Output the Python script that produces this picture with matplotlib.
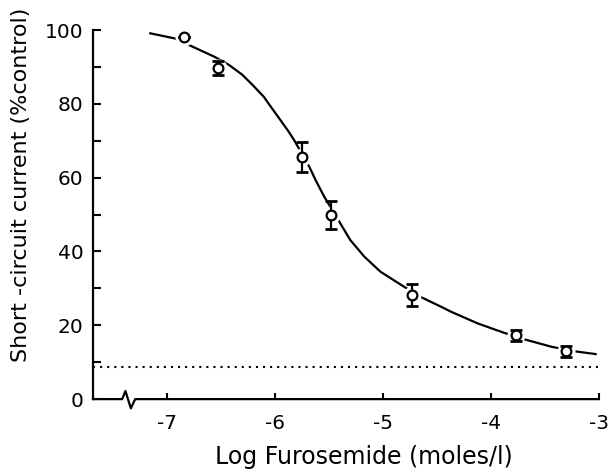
import matplotlib
matplotlib.use("Agg")
import matplotlib.pyplot as plt
from matplotlib.ticker import MultipleLocator

# ------------------------------------------------------------------ data

log_conc = [-6.84, -6.52, -5.75, -5.48, -4.73, -3.77, -3.30]
current = [98.1, 89.7, 65.6, 49.9, 28.2, 17.3, 13.0]
sem = [0.0, 1.8, 4.0, 3.8, 3.0, 1.5, 1.5]

# courbe ajustée
curve_x = [-7.15, -6.92, -6.76, -6.56, -6.42, -6.30, -6.20, -6.10, -6.02,
           -5.88, -5.82, -5.68, -5.62, -5.54, -5.40, -5.30, -5.17, -5.02,
           -4.80, -4.65, -4.43, -4.37, -4.12, -3.88, -3.69, -3.44, -3.26,
           -3.03]
curve_y = [99.1, 97.7, 95.5, 92.8, 90.5, 87.9, 85.0, 81.9, 78.6,
           72.9, 70.2, 63.0, 59.3, 54.8, 48.0, 43.1, 38.6, 34.5,
           30.4, 27.7, 24.6, 23.7, 20.5, 18.0, 16.2, 14.2, 13.1,
           12.2]

baseline = 8.7
x_ticks = [-7, -6, -5, -4, -3]
y_ticks = [0, 20, 40, 60, 80, 100]

# ------------------------------------------------------------------ figure

plt.rcParams["font.family"] = ["DejaVu Sans"]
plt.rcParams["axes.unicode_minus"] = False

fig = plt.figure(figsize=(6.08, 4.69), dpi=100)
ax = fig.add_axes([0.153, 0.149, 0.832, 0.787])

ax.plot(curve_x, curve_y, "-", color="black", lw=1.6, zorder=1,
        solid_joinstyle="round")
ax.axhline(baseline, color="black", ls=(0, (1, 2.4)), lw=1.5, zorder=1)

# halo blanc pour couper la courbe autour des points
ax.plot(log_conc, current, "o", ms=12, color="white", zorder=2)
ax.errorbar(log_conc, current, yerr=sem, fmt="none", ecolor="black",
            elinewidth=1.6, capsize=4, capthick=2, zorder=3)
ax.plot(log_conc, current, "o", ms=7, mfc="white", mec="black", mew=1.6,
        zorder=4)

ax.set_xlim(-7.68, -3)
ax.set_ylim(0, 100)
ax.set_xticks(x_ticks)
ax.set_yticks(y_ticks)
ax.yaxis.set_minor_locator(MultipleLocator(10))
ax.tick_params(axis="both", which="both", direction="in", labelsize=14.5,
               width=1.5)
ax.tick_params(axis="y", which="both", length=6, pad=7)
ax.tick_params(axis="x", length=4, pad=11)

for s in ("top", "right", "bottom"):
    ax.spines[s].set_visible(False)
ax.spines["left"].set_linewidth(1.6)

# axe x avec coupure en zigzag
ax.plot([-7.68, -7.41, -7.38, -7.33, -7.29, -3.0],
        [0, 0, 2.2, -2.5, 0, 0],
        color="black", lw=1.6, clip_on=False, zorder=5)

ax.set_xlabel("Log Furosemide (moles/l)", fontsize=17)
ax.set_ylabel("Short -circuit current (%control)", fontsize=16)
ax.xaxis.set_label_coords(0.536, -0.125)
ax.yaxis.set_label_coords(-0.123, 0.58)

fig.savefig("out.png", dpi=100)
